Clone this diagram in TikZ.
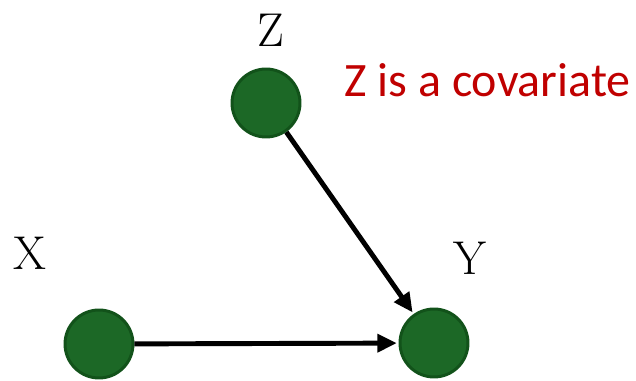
\documentclass[tikz,border=0pt]{standalone}
\usepackage{fontspec}
\usepackage{tikz}
\usetikzlibrary{arrows.meta,positioning}
\newfontfamily\calibrifont{Carlito}
\definecolor{nodegreen}{RGB}{28,104,38}
\definecolor{edgegreen}{RGB}{18,82,26}
\definecolor{notered}{RGB}{192,0,0}

\begin{document}
\begin{tikzpicture}[x=0.02cm,y=-0.02cm,
    var/.style={circle,draw=edgegreen,fill=nodegreen,line width=1.7pt,minimum size=1.36cm,inner sep=0pt},
    lbl/.style={font=\fontsize{27}{30}\selectfont},
    edge/.style={-{Triangle[length=11pt,width=10pt]},line width=2.8pt,shorten >=1pt}]
    \useasboundingbox (0,0) rectangle (636,381);
    % variables
    \node[var] (Z) at (266,103) {};
    \node[var] (X) at (99,344) {};
    \node[var] (Y) at (434,343) {};
    % names
    \node[lbl] (Zname) at (271,30) {Z};
    \node[lbl] (Xname) at (30,253) {X};
    \node[lbl] (Yname) at (470,258) {Y};
    \node[font=\calibrifont\fontsize{27.3}{30}\selectfont,text=notered,anchor=west,inner sep=0pt] (note) at (344,80) {Z is a covariate};
    % edges
    \draw[edge] (Z) -- (Y);
    \draw[edge] (X) -- (Y);
\end{tikzpicture}
\end{document}
